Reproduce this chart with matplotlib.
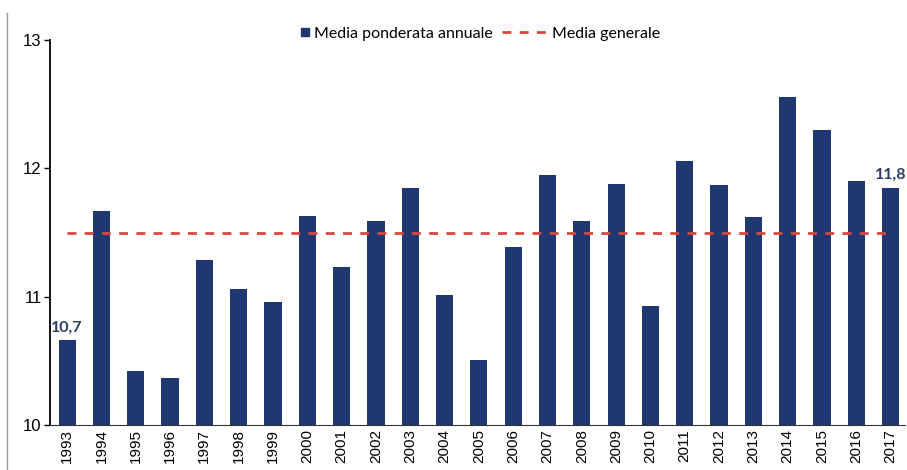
import matplotlib
matplotlib.use('Agg')
import matplotlib.pyplot as plt
from matplotlib.lines import Line2D

years = ['1993', '1994', '1995', '1996', '1997', '1998', '1999', '2000', '2001',
         '2002', '2003', '2004', '2005', '2006', '2007', '2008', '2009', '2010',
         '2011', '2012', '2013', '2014', '2015', '2016', '2017']
media_annuale = [10.66, 11.67, 10.42, 10.37, 11.29, 11.06, 10.96, 11.63, 11.23,
                 11.59, 11.85, 11.01, 10.51, 11.39, 11.95, 11.59, 11.88, 10.93,
                 12.06, 11.87, 11.62, 12.56, 12.30, 11.90, 11.85]
media_generale = 11.5
etichette = {0: '10,7', 24: '11,8'}

blu = '#1f3871'
rosso = '#d9473f'

fig = plt.figure(figsize=(9.07, 4.70), dpi=100)
ax = fig.add_axes([0.0551, 0.0957, 0.9427, 0.819])

x = list(range(len(years)))
ax.bar(x, [v - 10 for v in media_annuale], bottom=10, width=0.5, color=blu)
ax.hlines(media_generale, 0, len(years) - 1, colors=rosso, linestyles=(0, (3.2, 3)), lw=2)

for i, txt in etichette.items():
    ax.annotate(txt, (x[i], media_annuale[i]), xytext=(0, 4),
                textcoords='offset points', ha='center', va='bottom',
                fontsize=11.5, fontweight='bold', color='#2b3d66', family='Lato')

ax.set_ylim(10, 13)
ax.set_xlim(-0.5, 24.42)
ax.set_yticks([10, 11, 12, 13])
ax.set_xticks(x)
ax.set_xticklabels(years, rotation=90, fontsize=11, family='Liberation Sans')
ax.tick_params(axis='x', length=0, pad=3)
ax.tick_params(axis='y', length=4, width=1, labelsize=12, pad=2)
for lab in ax.get_yticklabels():
    lab.set_family('Liberation Sans')
ax.spines['top'].set_visible(False)
ax.spines['right'].set_visible(False)
ax.spines['left'].set_linewidth(1.3)
ax.spines['bottom'].set_color('#333333')

# legend in two pieces so each handle gets its own length
leg_font = {'family': 'Lato', 'size': 11.5}
sq = Line2D([], [], marker='s', ls='', color=blu, markersize=6)
fig.legend([sq], ['Media ponderata annuale'], loc='center left',
           bbox_to_anchor=(300 / 907, 1 - 34 / 470), frameon=False,
           prop=leg_font, handlelength=0.6, handletextpad=0.3,
           borderpad=0, borderaxespad=0)
dl = Line2D([], [], color=rosso, ls=(0, (3.2, 3)), lw=2)
fig.legend([dl], ['Media generale'], loc='center left',
           bbox_to_anchor=(502 / 907, 1 - 34 / 470), frameon=False,
           prop=leg_font, handlelength=2.9, handletextpad=0.25,
           borderpad=0, borderaxespad=0)

fig.add_artist(Line2D([7 / 907, 7 / 907], [0, 1 - 13 / 470], color='#999999', lw=1))

fig.savefig('out.png', dpi=100)
